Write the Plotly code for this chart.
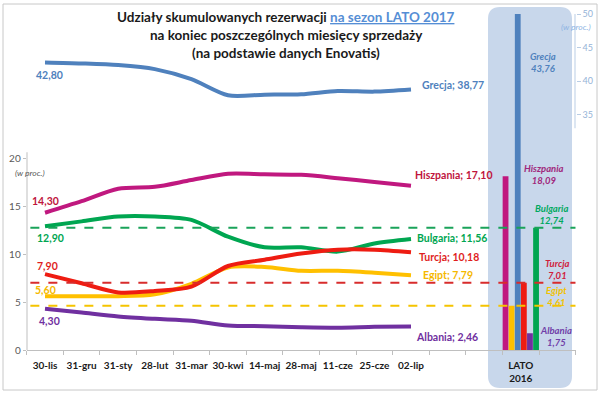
import plotly.graph_objects as go

# ---------------- data ----------------
categories = ["30-lis", "31-gru", "31-sty", "28-lut", "31-mar", "30-kwi",
              "14-maj", "28-maj", "11-cze", "25-cze", "02-lip"]
lato_label = "LATO<br>2016"

grecja    = [42.80, 42.65, 42.40, 41.80, 40.30, 37.90, 38.00, 38.05, 38.55, 38.45, 38.77]
hiszpania = [14.30, 15.50, 16.80, 17.00, 17.70, 18.35, 18.30, 18.25, 17.90, 17.50, 17.10]
bulgaria  = [12.90, 13.40, 13.90, 13.90, 13.55, 11.80, 10.70, 10.70, 10.25, 11.10, 11.56]
turcja    = [7.90, 6.95, 6.00, 6.15, 6.60, 8.75, 9.40, 10.05, 10.45, 10.45, 10.18]
egipt     = [5.60, 5.60, 5.60, 5.80, 6.90, 8.60, 8.65, 8.25, 8.25, 8.05, 7.79]
albania   = [4.30, 3.90, 3.50, 3.25, 3.05, 2.55, 2.48, 2.38, 2.33, 2.42, 2.46]

lato_kraje = ["Hiszpania", "Egipt", "Grecja", "Turcja", "Albania", "Bulgaria"]
lato_vals  = [18.09, 4.61, 43.76, 7.01, 1.75, 12.74]

left_ticks = [0, 5, 10, 15, 20]
right_ticks = [35, 40, 45, 50]

# ---------------- styles ----------------
FONT = "Lato"
W, H = 600, 395
col_line = {"Grecja": "#4f81bd", "Hiszpania": "#c0187f", "Bulgaria": "#00a651",
            "Turcja": "#ee1c12", "Egipt": "#ffc000", "Albania": "#7030a0"}
col_lab = {"Grecja": "#4f81bd", "Hiszpania": "#c0143c", "Bulgaria": "#00a651",
           "Turcja": "#e01e1e", "Egipt": "#f5b800", "Albania": "#7030a0"}
col_panel_lab = {"Grecja": "#4f81bd", "Hiszpania": "#a0287c", "Bulgaria": "#00a860",
                 "Turcja": "#d0203c", "Egipt": "#f2c200", "Albania": "#7040a8"}
col_dash = {"Bulgaria": "#1aa35a", "Turcja": "#d82c2c", "Egipt": "#f5c400"}

def fmt(v):
    return f"{v:.2f}".replace(".", ",")

def px(x):
    return x / W

def py(y):
    return 1 - y / H

x_idx = list(range(len(categories)))
lato_x = len(categories) + 2  # two empty slots before LATO 2016

fig = go.Figure()

# panel background (rounded rectangle)
x0, x1, y0, y1 = px(488), px(572), py(388), py(7)
rx, ry = 12 / W, 12 / H
path = (f"M {x0+rx},{y1} L {x1-rx},{y1} Q {x1},{y1} {x1},{y1-ry} "
        f"L {x1},{y0+ry} Q {x1},{y0} {x1-rx},{y0} L {x0+rx},{y0} "
        f"Q {x0},{y0} {x0},{y0+ry} L {x0},{y1-ry} Q {x0},{y1} {x0+rx},{y1} Z")
fig.add_shape(type="path", path=path, xref="paper", yref="paper",
              fillcolor="#c8d7eb", line=dict(width=0), layer="below")

# outer frame
fig.add_shape(type="rect", xref="paper", yref="paper", x0=px(3), x1=px(597),
              y0=py(390), y1=py(4), line=dict(color="#c8c8c8", width=1), layer="below")

# lines
series = [("Hiszpania", hiszpania, "y"), ("Bulgaria", bulgaria, "y"),
          ("Egipt", egipt, "y"), ("Turcja", turcja, "y"),
          ("Albania", albania, "y"), ("Grecja", grecja, "y2")]
for name, vals, ax in series:
    fig.add_trace(go.Scatter(x=x_idx, y=vals, mode="lines", name=name, yaxis=ax,
                             line=dict(color=col_line[name], width=4, shape="spline",
                                       smoothing=0.8),
                             showlegend=False, hoverinfo="skip"))

# bars LATO 2016
for name, v in zip(lato_kraje, lato_vals):
    fig.add_trace(go.Bar(x=[lato_x], y=[v], name=name, marker_color=col_line[name],
                         marker_line_width=0, showlegend=False, hoverinfo="skip"))

# dashed reference lines for 2016 values
for name in ["Bulgaria", "Turcja", "Egipt"]:
    v = lato_vals[lato_kraje.index(name)]
    fig.add_shape(type="line", xref="x", yref="y", x0=-0.4, x1=lato_x + 1.5,
                  y0=v, y1=v, line=dict(color=col_dash[name], width=2, dash="dash"))

# axis lines drawn partially
fig.add_shape(type="line", xref="paper", yref="y", x0=px(27), x1=px(27), y0=0, y1=20.6,
              line=dict(color="#bfbfbf", width=1))
fig.add_shape(type="line", xref="paper", yref="y2", x0=px(575), x1=px(575), y0=33, y1=50.3,
              line=dict(color="#b9cde5", width=1))

# first point labels
first = {"Grecja": (grecja, "y2", 4, -13), "Hiszpania": (hiszpania, "y", 0, 12),
         "Bulgaria": (bulgaria, "y", 5, -12), "Turcja": (turcja, "y", 2, 8),
         "Egipt": (egipt, "y", 0, 6), "Albania": (albania, "y", 4, -12)}
for name, (vals, ax, dx, dy) in first.items():
    fig.add_annotation(x=0, y=vals[0], xref="x", yref=ax, text=f"<b>{fmt(vals[0])}</b>",
                       showarrow=False, xshift=dx, yshift=dy, xanchor="center",
                       yanchor="middle",
                       font=dict(family=FONT, size=10.5, color=col_lab[name]))

# last point labels
last = {"Grecja": (grecja, "y2", 9, 4), "Hiszpania": (hiszpania, "y", 2, 11),
        "Bulgaria": (bulgaria, "y", 4, 1), "Turcja": (turcja, "y", 6, -5),
        "Egipt": (egipt, "y", 10, 0), "Albania": (albania, "y", 3, -11)}
for name, (vals, ax, dx, dy) in last.items():
    fig.add_annotation(x=len(vals) - 1, y=vals[-1], xref="x", yref=ax,
                       text=f"<b>{name}; {fmt(vals[-1])}</b>", xanchor="left",
                       yanchor="middle", showarrow=False, xshift=dx, yshift=dy,
                       font=dict(family=FONT, size=10.5, color=col_lab[name]))

# panel labels
panel_pos = {"Grecja": (543, 63), "Hiszpania": (544, 174), "Bulgaria": (551, 214),
             "Turcja": (557, 269), "Egipt": (556, 296), "Albania": (556, 336)}
for name, v in zip(lato_kraje, lato_vals):
    xx, yy = panel_pos[name]
    fig.add_annotation(x=px(xx), y=py(yy), xref="paper", yref="paper",
                       xanchor="center", yanchor="middle",
                       text=f"<b><i>{name}<br>{fmt(v)}</i></b>", showarrow=False,
                       font=dict(family=FONT, size=9.5, color=col_panel_lab[name]))

# unit labels
fig.add_annotation(x=px(30), y=py(173), xref="paper", yref="paper", text="<i>(w proc.)</i>",
                   xanchor="center", yanchor="middle",
                   showarrow=False, font=dict(family=FONT, size=8.5, color="#595959"))
fig.add_annotation(x=px(576), y=py(27), xref="paper", yref="paper", text="<i>(w proc.)</i>",
                   xanchor="center", yanchor="middle",
                   showarrow=False, font=dict(family=FONT, size=8.5, color="#8eb4e3"))

# title
title_lines = ["<b>Udziały skumulowanych rezerwacji <span style='color:#558ed5'><u>na sezon LATO 2017</u></span></b>",
               "<b>na koniec poszczególnych miesięcy sprzedaży</b>",
               "<b>(na podstawie danych Enovatis)</b>"]
for i, t in enumerate(title_lines):
    fig.add_annotation(x=px(286), y=py(17 + 18 * i), xref="paper", yref="paper", text=t,
                       xanchor="center", yanchor="middle",
                       showarrow=False, font=dict(family=FONT, size=13.5, color="#1a1a1a"))

fig.update_layout(
    width=W, height=H, margin=dict(l=0, r=0, t=0, b=0, autoexpand=False),
    paper_bgcolor="white", plot_bgcolor="rgba(0,0,0,0)",
    barmode="group", bargap=0.0, bargroupgap=0.05,
    showlegend=False,
    xaxis=dict(domain=[px(26.7), px(575.7)], range=[-0.5, lato_x + 1.5],
               tickvals=x_idx + [lato_x],
               ticktext=[f"<b>{c}</b>" for c in categories + [lato_label]],
               ticks="", showline=True, linecolor="#bfbfbf", linewidth=1,
               showgrid=False, zeroline=False, ticklabelstandoff=6,
               tickangle=0, automargin=False,
               tickfont=dict(family=FONT, size=10, color="#1a1a1a"),
               minor=dict(tick0=-0.5, dtick=1, ticks="outside", ticklen=4,
                          tickcolor="#bfbfbf", showgrid=False)),
    yaxis=dict(domain=[py(350), py(14)], range=[0, 336 / 9.6], automargin=False,
               tickvals=left_ticks, ticks="outside", ticklen=3, tickcolor="#bfbfbf",
               showgrid=False, zeroline=False, showline=False,
               tickfont=dict(family=FONT, size=10, color="#595959")),
    yaxis2=dict(overlaying="y", side="right", range=[0, 50], tickvals=right_ticks,
                ticks="outside", ticklen=4, tickcolor="#b9cde5", showgrid=False,
                zeroline=False, showline=False, automargin=False,
                tickfont=dict(family=FONT, size=9, color="#95b3d7")),
)

fig.write_html("out.html", config={"displayModeBar": False},
               post_script="document.body.style.margin='0';document.body.style.overflow='hidden';")
